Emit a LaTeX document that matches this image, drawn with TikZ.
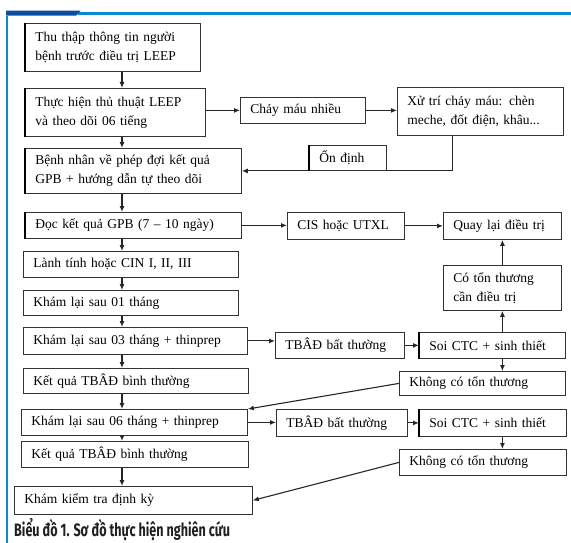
\documentclass[tikz,border=0pt]{standalone}
\usepackage{fontspec}
\setmainfont{Liberation Serif}
\newfontfamily\capfont[FakeStretch=0.7]{Fira Sans}
\usetikzlibrary{arrows.meta}
\definecolor{dblue}{HTML}{0C4EA2}
\definecolor{lblue}{HTML}{0A88D2}
\definecolor{capcol}{HTML}{231F20}
\begin{document}
\begin{tikzpicture}[x=1pt,y=-1pt,
  box/.style={draw=black!80, line width=0.8pt, fill=white, anchor=north west,
    inner xsep=10pt, inner ysep=0pt, align=left,
    font=\fontsize{13.5}{19}\selectfont},
  sz/.style 2 args={minimum width=#1pt, minimum height=#2pt, text width=#1pt-20pt},
  arr/.style={-{Latex[length=6pt,width=5pt]}, line width=1.1pt, black!85},
  thk/.style={line width=1.8pt, black}]
\useasboundingbox (0,0) rectangle (571,543);
% header decoration
\fill[lblue] (78,11.7) rectangle (571,15.3);
\fill[dblue] (6,10.7) -- (80.5,10.7) -- (76,15.7) -- (6,15.7) -- cycle;
\fill[lblue] (6.3,15.7) rectangle (7.6,543);
% left column
\node[box, sz={175}{48}] (b1) at (25,23) {Thu thập thông tin người\\bệnh trước điều trị LEEP};
\node[box, sz={180}{48}] (b2) at (25,88) {Thực hiện thủ thuật LEEP\\và theo dõi 06 tiếng};
\node[box, sz={216}{45}] (bn) at (25,148) {Bệnh nhân về phép đợi kết quả\\GPB + hướng dẫn tự theo dõi};
\node[box, sz={216}{26}] (doc) at (25,212) {Đọc kết quả GPB (7 – 10 ngày)};
\node[box, sz={215}{26}] (lt) at (23,251) {Lành tính hoặc CIN I, II, III};
\node[box, sz={215}{25}] (k01) at (23,290) {Khám lại sau 01 tháng};
\node[box, sz={224}{27}] (k03) at (23,327) {Khám lại sau 03 tháng + thinprep};
\node[box, sz={225}{25}] (kq1) at (23,368) {Kết quả TBÂĐ bình thường};
\node[box, sz={226}{26}] (k06) at (21,409) {Khám lại sau 06 tháng + thinprep};
\node[box, sz={227}{26}] (kq2) at (21,441) {Kết quả TBÂĐ bình thường};
\node[box, sz={238}{28}] (kk) at (14,486) {Khám kiểm tra định kỳ};
% right part
\node[box, sz={125}{26}] (cm) at (240,97) {Chảy máu nhiều};
\node[box, sz={166}{48}] (xt) at (397,87) {Xử trí chảy máu: chèn\\meche, đốt điện, khâu...};
\node[box, sz={117}{27}] (cis) at (287,212) {CIS hoặc UTXL};
\node[box, sz={118}{27}] (ql) at (443,212) {Quay lại điều trị};
\node[box, sz={118}{45}] (co) at (443,265) {Có tổn thương\\cần điều trị};
\node[box, sz={129}{26}] (tb1) at (275,332) {TBÂĐ bất thường};
\node[box, sz={146}{26}] (s1) at (419,332) {Soi CTC + sinh thiết};
\node[box, sz={166}{24}] (kh1) at (399,371) {Không có tổn thương};
\node[box, sz={131}{27}] (tb2) at (276,409) {TBÂĐ bất thường};
\node[box, sz={147}{27}] (s2) at (419,409) {Soi CTC + sinh thiết};
\node[box, sz={167}{26}] (kh2) at (399,449) {Không có tổn thương};
% feedback line
\draw[arr] ([xshift=-28pt]xt.south) |- (bn.east);
\node[box, sz={77}{25}, anchor=south west] (od) at (309,170.5) {Ổn định};
% thick left edges
\foreach \n in {b1,b2,bn,doc,od,s1,s2}
  \draw[thk] (\n.north west) -- (\n.south west);
% left column arrows
\coordinate (cx) at (122,0);
\draw[arr] (b1.south -| cx) -- (b2.north -| cx);
\draw[arr] (b2.south -| cx) -- (bn.north -| cx);
\draw[arr] (bn.south -| cx) -- (doc.north -| cx);
\draw[arr] (doc.south -| cx) -- (lt.north -| cx);
\draw[arr] (lt.south -| cx) -- (k01.north -| cx);
\draw[arr] (k01.south -| cx) -- (k03.north -| cx);
\draw[arr] (k03.south -| cx) -- (kq1.north -| cx);
\draw[arr] (kq1.south -| cx) -- (k06.north -| cx);
\draw[arr] (k06.south -| cx) -- (kq2.north -| cx);
\draw[arr] (kq2.south -| cx) -- (kk.north -| cx);
% horizontal arrows
\draw[arr] (b2.east |- cm.west) -- (cm.west);
\draw[arr] (cm.east) -- (xt.west |- cm.east);
\draw[arr] (doc.east) -- (cis.west |- doc.east);
\draw[arr] (cis.east) -- (ql.west);
\draw[arr] (k03.east) -- (tb1.west |- k03.east);
\draw[arr] (tb1.east) -- (s1.west);
\draw[arr] (k06.east) -- (tb2.west |- k06.east);
\draw[arr] (tb2.east) -- (s2.west);
% right column arrows
\draw[arr] (co.north) -- (ql.south);
\draw[arr] (s1.north -| co.south) -- (co.south);
\draw[arr] (s1.south -| co.south) -- (kh1.north -| co.south);
\draw[arr] (s2.south -| co.south) -- (kh2.north -| co.south);
% diagonal arrows
\draw[arr] (kh1.west) -- (k06.north east);
\draw[arr] (kh2.west) -- (kk.east);
% caption
\node[anchor=base west, inner sep=0pt, text=capcol,
  font=\capfont\bfseries\fontsize{18}{18}\selectfont] (cap) at (14,536)
  {Biểu đồ 1. Sơ đồ thực hiện nghiên cứu};
\end{tikzpicture}
\end{document}
